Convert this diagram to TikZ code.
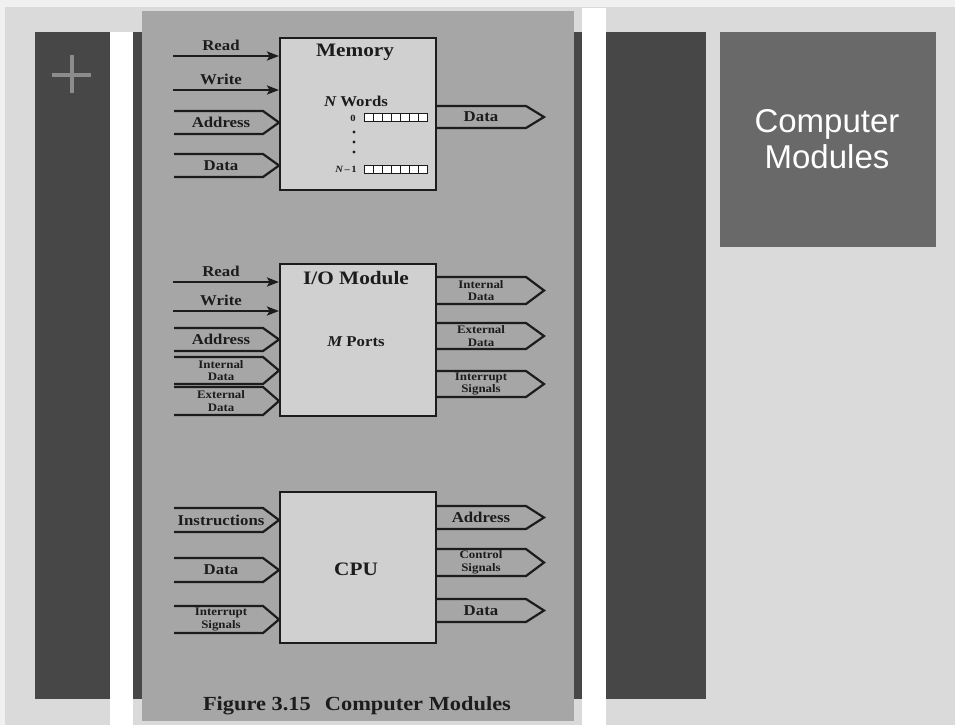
\documentclass[tikz,border=0pt]{standalone}
\usepackage{fontspec}
\usepackage{tikz}
\usetikzlibrary{arrows.meta}
\setmainfont{Liberation Serif}
\newfontfamily\figfont[FakeStretch=1.12]{Liberation Serif}
\newfontfamily\slidefont{Liberation Sans}
\definecolor{paper_edge}{RGB}{240,240,240}
\definecolor{paper_gray}{RGB}{218,218,218}
\definecolor{bar_dark}{RGB}{71,71,71}
\definecolor{panel_gray}{RGB}{166,166,166}
\definecolor{box_fill}{RGB}{208,208,208}
\definecolor{title_gray}{RGB}{105,105,105}
\definecolor{plus_gray}{RGB}{140,140,140}
\definecolor{ink}{RGB}{28,28,28}
% bus going into a box: box, name, y, half height, label style, text
\newcommand\busin[6]{%
  \node[#5] (#2) at (221,#3) {#6};
  \draw[bus] (#1.west |- #2) ++(-105,-#4) -- ++(89,0) -- (#1.west |- #2) -- ++(-16,#4) -- ++(-89,0);
}
% bus leaving a box
\newcommand\busout[6]{%
  \node[#5] (#2) at (481,#3) {#6};
  \draw[bus] (#1.east |- #2) ++(0,-#4) -- ++(89,0) -- ++(18,#4) -- ++(-18,#4) -- ++(-89,0);
}
% single control line with arrow
\newcommand\sigin[4]{%
  \coordinate (#2-start) at (173,#3);
  \node[lbl] (#2) at (221,#3-10.5) {#4};
  \draw[sig] (#2-start) -- (#1.west |- #2-start);
}

\begin{document}
\begin{tikzpicture}[x=1pt,y=-1pt,>={Stealth[length=12pt,width=9pt,inset=2.5pt]}]
    \tikzstyle{modbox}=[draw=ink, line width=2pt, fill=box_fill, minimum width=156pt, inner sep=0pt]
    \tikzstyle{lbl}=[inner sep=0pt, text=ink, font=\figfont\bfseries\fontsize{15}{17}\selectfont]
    \tikzstyle{lbl2}=[style=lbl, align=center, font=\figfont\bfseries\fontsize{11.5}{12.5}\selectfont]
    \tikzstyle{head}=[style=lbl, font=\figfont\bfseries\fontsize{19}{21}\selectfont]
    \tikzstyle{tiny}=[style=lbl, font=\figfont\bfseries\fontsize{9.5}{11}\selectfont]
    \tikzstyle{bus}=[draw=ink, line width=2.2pt, line join=miter]
    \tikzstyle{sig}=[draw=ink, line width=2.2pt, ->]
    \tikzstyle{cell}=[draw=ink, line width=0.9pt, fill=white]

    % slide background
    \useasboundingbox (0,0) rectangle (955,725);
    \fill[paper_edge] (0,0) rectangle (955,725);
    \fill[paper_gray] (5,7) rectangle (955,725);
    \fill[white] (110,32) rectangle (133,725);
    \fill[white] (582,8) rectangle (606,725);
    \fill[bar_dark] (35,32) rectangle (110,699);
    \fill[bar_dark] (133,32) rectangle (582,699);
    \fill[bar_dark] (606,32) rectangle (706,699);
    \fill[panel_gray] (142,11) rectangle (574,721);
    \draw[plus_gray, line width=4pt] (52,74.5) -- (91,74.5) (71.5,55) -- (71.5,93);
    \fill[title_gray] (720,32) rectangle (936,247);
    \node[text=white, align=center, inner sep=0pt, font=\slidefont\fontsize{33}{36}\selectfont]
      (title) at (827,139) {Computer\\Modules};

    % memory
    \node[modbox, minimum height=152pt] (mem) at (358,114) {};
    \node[head] (mem-name) at (355,52) {Memory};
    \node[lbl] (mem-words) at (356,101) {{\itshape N} Words};
    \node[tiny] (mem-first) at (353,118) {0};
    \node[tiny, anchor=east] (mem-last) at (357,169) {{\itshape N}\,–\,1};
    \foreach \k in {0,...,6} {
      \draw[cell] (364+9*\k,113) rectangle ++(9,8);
      \draw[cell] (364+9*\k,165) rectangle ++(9,8);
    }
    \foreach \y in {132,142,152}
      \fill[ink] (354,\y) circle (1.6);
    \sigin{mem}{mem-read}{56}{Read}
    \sigin{mem}{mem-write}{90}{Write}
    \busin{mem}{mem-addr}{122.5}{11.5}{lbl}{Address}
    \busin{mem}{mem-din}{165.5}{11.5}{lbl}{Data}
    \busout{mem}{mem-dout}{117}{11}{lbl}{Data}

    % I/O module
    \node[modbox, minimum height=152pt] (io) at (358,340) {};
    \node[head] (io-name) at (356,278) {I/O Module};
    \node[lbl] (io-ports) at (356,342) {{\itshape M} Ports};
    \sigin{io}{io-read}{282}{Read}
    \sigin{io}{io-write}{311}{Write}
    \busin{io}{io-addr}{339.5}{11.5}{lbl}{Address}
    \busin{io}{io-iin}{370.5}{13.5}{lbl2}{Internal\\Data}
    \busin{io}{io-ein}{401}{14}{lbl2}{External\\Data}
    \busout{io}{io-iout}{290.5}{13.5}{lbl2}{Internal\\Data}
    \busout{io}{io-eout}{336}{13}{lbl2}{External\\Data}
    \busout{io}{io-int}{384}{13}{lbl2}{Interrupt\\Signals}

    % CPU
    \node[modbox, minimum height=151pt] (cpu) at (358,567.5) {};
    \node[head] (cpu-name) at (356,569) {CPU};
    \busin{cpu}{cpu-instr}{520}{12}{lbl}{Instructions}
    \busin{cpu}{cpu-din}{570}{12}{lbl}{Data}
    \busin{cpu}{cpu-int}{619.5}{13.5}{lbl2}{Interrupt\\Signals}
    \busout{cpu}{cpu-addr}{517.5}{11.5}{lbl}{Address}
    \busout{cpu}{cpu-ctrl}{562.5}{13.5}{lbl2}{Control\\Signals}
    \busout{cpu}{cpu-dout}{610.5}{11.5}{lbl}{Data}

    \node[lbl, font=\figfont\bfseries\fontsize{20}{22}\selectfont] (caption) at (357,706)
      {Figure 3.15\hspace{14pt}Computer Modules};
\end{tikzpicture}
\end{document}
